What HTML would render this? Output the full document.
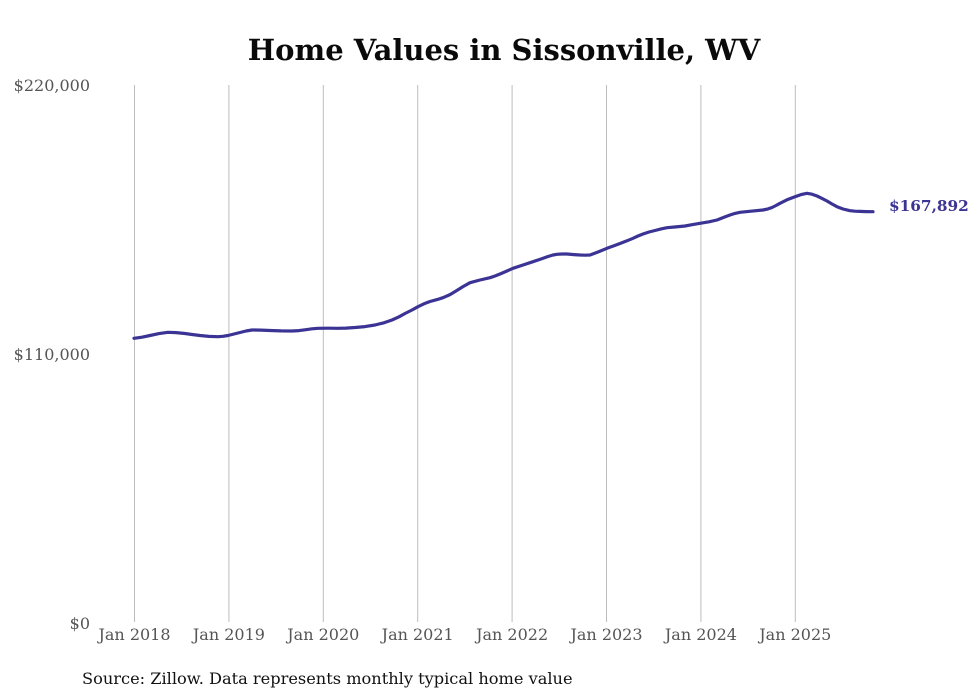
<!DOCTYPE html>
<html>
<head>
<meta charset="utf-8">
<style>
html,body{margin:0;padding:0;background:#fff;}
svg{display:block;}
text{font-family:"DejaVu Serif","Liberation Serif",serif;}
</style>
</head>
<body>
<svg width="980" height="699" viewBox="0 0 980 699" xmlns="http://www.w3.org/2000/svg">
<rect width="980" height="699" fill="#fff"/>
<text x="504" y="60" text-anchor="middle" font-size="29" font-weight="bold" fill="#0a0a0a">Home Values in Sissonville, WV</text>
<g stroke="#bdbdbd" stroke-width="1">
<line x1="134.5" y1="85" x2="134.5" y2="622"/>
<line x1="228.9" y1="85" x2="228.9" y2="622"/>
<line x1="323.3" y1="85" x2="323.3" y2="622"/>
<line x1="417.7" y1="85" x2="417.7" y2="622"/>
<line x1="512.1" y1="85" x2="512.1" y2="622"/>
<line x1="606.5" y1="85" x2="606.5" y2="622"/>
<line x1="700.9" y1="85" x2="700.9" y2="622"/>
<line x1="795.3" y1="85" x2="795.3" y2="622"/>
</g>
<g font-size="16" fill="#555" text-anchor="end">
<text x="90" y="91">$220,000</text>
<text x="90" y="360">$110,000</text>
<text x="90" y="629">$0</text>
</g>
<g font-size="16" fill="#555" text-anchor="middle">
<text x="134.5" y="640">Jan 2018</text>
<text x="228.9" y="640">Jan 2019</text>
<text x="323.3" y="640">Jan 2020</text>
<text x="417.7" y="640">Jan 2021</text>
<text x="512.1" y="640">Jan 2022</text>
<text x="606.5" y="640">Jan 2023</text>
<text x="700.9" y="640">Jan 2024</text>
<text x="795.3" y="640">Jan 2025</text>
</g>
<polyline fill="none" stroke="#3b3494" stroke-width="3.2" stroke-linejoin="round" stroke-linecap="round" points="134,338.3 142,337.2 150,335.5 159,333.6 168,332.3 176,332.6 185,333.5 192,334.5 200,335.5 209,336.4 218,336.7 223,336.3 228,335.5 234,334 240,332.5 246,331 252,330 261,330.1 270,330.5 281,330.9 292,331 299,330.6 305,329.8 312,328.8 318,328.3 328,328.2 338,328.3 346,328.1 355,327.5 365,326.6 375,325 384,322.8 392,320 399,316.8 405,313.5 412,310 418,306.7 424,303.8 430,301.5 437,299.6 443,297.7 450,294.6 456,291 463,286.6 470,282.7 480,280 490,277.7 495,276 500,274 507,271 513,268.3 523,265 533,261.7 541,259 548,256.5 553,255 557,254.3 562,254 567,254 574,254.6 580,255 585,255.2 590,255 598,252 607,248.3 614,245.8 620,243.5 627,240.8 633,238.3 638,236 643,234 649,232 655,230.5 661,228.9 667,227.7 676,226.9 685,226 692,224.7 700,223.3 709,221.8 717,220 724,217.3 730,215 735,213.4 740,212.3 751,211.2 763,210 768,208.9 772,207.5 776,205.5 780,203.3 787,199.8 795,196.7 801,194.6 807,193.3 812,194.2 817,196 822,198.4 827,201 832,204 837,206.7 843,209 850,210.7 855,211.2 860,211.4 866,211.6 873,211.7"/>
<text x="889" y="211" font-size="15.3" font-weight="bold" fill="#3b3494">$167,892</text>
<text x="82" y="684" font-size="16.2" fill="#111">Source: Zillow. Data represents monthly typical home value</text>
</svg>
</body>
</html>
